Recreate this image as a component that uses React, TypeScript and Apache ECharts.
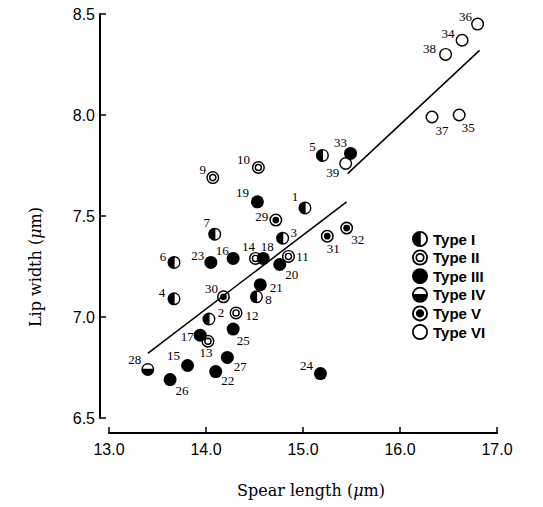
import { useEffect, useRef } from 'react';
import * as echarts from 'echarts';

// ---- data ----
const pointIds = [
  1, 2, 3, 4, 5, 6, 7, 8, 9, 10, 11, 12, 13, 14, 15, 16, 17, 18, 19, 20,
  21, 22, 23, 24, 25, 26, 27, 28, 29, 30, 31, 32, 33, 34, 35, 36, 37, 38, 39,
];
const spearLength = [
  15.02, 14.03, 14.79, 13.67, 15.2, 13.67, 14.09, 14.52, 14.07, 14.54,
  14.85, 14.31, 14.02, 14.51, 13.81, 14.28, 13.94, 14.59, 14.53, 14.76,
  14.56, 14.1, 14.05, 15.18, 14.28, 13.63, 14.22, 13.4, 14.72, 14.18,
  15.25, 15.45, 15.49, 16.64, 16.61, 16.8, 16.33, 16.47, 15.44,
];
const lipWidth = [
  7.54, 6.99, 7.39, 7.09, 7.8, 7.27, 7.41, 7.1, 7.69, 7.74,
  7.3, 7.02, 6.88, 7.29, 6.76, 7.29, 6.91, 7.29, 7.57, 7.26,
  7.16, 6.73, 7.27, 6.72, 6.94, 6.69, 6.8, 6.74, 7.48, 7.1,
  7.4, 7.44, 7.81, 8.37, 8.0, 8.45, 7.99, 8.3, 7.76,
];
const pointTypes = [
  'I', 'I', 'I', 'I', 'I', 'I', 'I', 'I', 'II', 'II',
  'II', 'II', 'II', 'II', 'III', 'III', 'III', 'III', 'III', 'III',
  'III', 'III', 'III', 'III', 'III', 'III', 'III', 'IV', 'V', 'V',
  'V', 'V', 'III', 'VI', 'VI', 'VI', 'VI', 'VI', 'VI',
];
const typeNames = ['I', 'II', 'III', 'IV', 'V', 'VI'];
const trendLow = [[13.4, 6.82], [15.45, 7.57]];
const trendHigh = [[15.46, 7.71], [16.82, 8.32]];
const xTicks = { min: 13, max: 17, interval: 1 };
const yTicks = { min: 6.5, max: 8.5, interval: 0.5 };

// label offsets (px) of each point's number, relative to the marker centre
const labelOffsets: number[][] = [
  [-10, -11], [12, -7], [11, -6], [-12, -6], [-10, -9], [-11, -6], [-8, -12], [12, 3], [-10, -8], [-15, -8],
  [14, 0], [16, 3], [-2, 11], [-7, -12], [-14, -10], [-11, -8], [-13, 1], [4, -12], [-15, -9], [12, 10],
  [16, 3], [12, 9], [-13, -7], [-14, -8], [10, 11], [12, 11], [13, 9], [-13, -10], [-14, -4], [-12, -8],
  [6, 12], [11, 11], [-10, -11], [-14, -7], [9, 12], [-12, -8], [10, 13], [-16, -6], [-13, 9],
];

// ---- symbols ----
const circ = (r: number, cw: boolean) => {
  const s = cw ? 1 : 0;
  return `M10 ${10 - r} A${r} ${r} 0 1 ${s} 10 ${10 + r} A${r} ${r} 0 1 ${s} 10 ${10 - r} Z `;
};
const RI = 7.8;
const dd = Math.sqrt(RI * RI - 1);
const symbolPaths: Record<string, string> = {
  I: circ(10, true) + `M11 ${10 - dd} L11 ${10 + dd} A${RI} ${RI} 0 0 0 11 ${10 - dd} Z`,
  II: circ(10, true) + circ(7.8, false) + circ(5.8, true) + circ(3.6, false),
  III: circ(10, true),
  IV: circ(10, true) + `M${10 - dd} 9 L${10 + dd} 9 A${RI} ${RI} 0 0 0 ${10 - dd} 9 Z`,
  V: circ(10, true) + circ(7.6, false) + circ(5.2, true),
  VI: circ(10, true) + circ(7.8, false),
};

const SYM = 13;
const axisStyle = { lineStyle: { color: '#000', width: 2 } };
const titleFont = '"DejaVu Serif"';

export default function App() {
  const ref = useRef<HTMLDivElement>(null);
  useEffect(() => {
    const chart = echarts.init(ref.current!, null, { renderer: 'svg' });
    const scatterSeries = typeNames.map((t) => ({
      type: 'scatter',
      name: 'Type ' + t,
      color: '#000',
      symbol: 'path://' + symbolPaths[t],
      symbolSize: SYM,
      itemStyle: { color: '#000', opacity: 1 },
      label: {
        show: true,
        color: '#000',
        fontSize: 13,
        fontFamily: '"Liberation Serif"',
        align: 'center',
        verticalAlign: 'middle',
      },
      data: pointIds
        .map((id, i) => ({ id, i }))
        .filter(({ i }) => pointTypes[i] === t)
        .map(({ id, i }) => ({
          value: [spearLength[i], lipWidth[i]],
          label: {
            position: [SYM / 2 + labelOffsets[i][0], SYM / 2 + labelOffsets[i][1]],
            formatter: String(id),
            color: '#000',
          },
        })),
    }));
    const lineSeries = [trendLow, trendHigh].map((d) => ({
      type: 'line',
      data: d,
      symbol: 'none',
      color: '#000',
      lineStyle: { color: '#000', width: 1.5 },
      z: 1,
    }));
    chart.setOption({
      animation: false,
      grid: { left: 109, right: 46, top: 14, bottom: 89 },
      xAxis: {
        type: 'value',
        ...xTicks,
        offset: 15,
        axisLine: axisStyle,
        axisTick: { inside: true, length: 6, lineStyle: { color: '#000', width: 1.5 } },
        splitLine: { show: false },
        axisLabel: {
          color: '#000',
          fontSize: 16,
          fontFamily: '"Liberation Sans"',
          margin: 8,
          formatter: (v: number) => v.toFixed(1),
        },
      },
      yAxis: {
        type: 'value',
        ...yTicks,
        offset: 9,
        axisLine: axisStyle,
        axisTick: { inside: true, length: 6, lineStyle: { color: '#000', width: 1.5 } },
        splitLine: { show: false },
        axisLabel: {
          color: '#000',
          fontSize: 16,
          fontFamily: '"Liberation Sans"',
          margin: 5,
          formatter: (v: number) => v.toFixed(1),
        },
      },
      legend: {
        orient: 'vertical',
        left: 407,
        top: 226,
        itemWidth: 16,
        itemHeight: 16,
        itemGap: 2.6,
        data: typeNames.map((t) => ({ name: 'Type ' + t, icon: 'path://' + symbolPaths[t] })),
        textStyle: { color: '#000', fontSize: 15, fontWeight: 'bold', fontFamily: '"Liberation Sans"' },
      },
      graphic: [
        {
          type: 'text',
          x: 311,
          y: 490,
          style: {
            text: 'Spear length ({i|μ}m)',
            fontSize: 16,
            fontFamily: titleFont,
            fill: '#000',
            align: 'center',
            verticalAlign: 'middle',
            rich: { i: { fontStyle: 'italic', fontSize: 16, fontFamily: titleFont } },
          },
        },
        {
          type: 'text',
          x: 35,
          y: 267,
          rotation: Math.PI / 2,
          style: {
            text: 'Lip width ({i|μ}m)',
            fontSize: 16,
            fontFamily: titleFont,
            fill: '#000',
            align: 'center',
            verticalAlign: 'middle',
            rich: { i: { fontStyle: 'italic', fontSize: 16, fontFamily: titleFont } },
          },
        },
      ],
      series: [...lineSeries, ...scatterSeries],
    });
    return () => chart.dispose();
  }, []);
  return <div ref={ref} style={{ position: 'absolute', left: 0, top: 0, width: 543, height: 507 }} />;
}
